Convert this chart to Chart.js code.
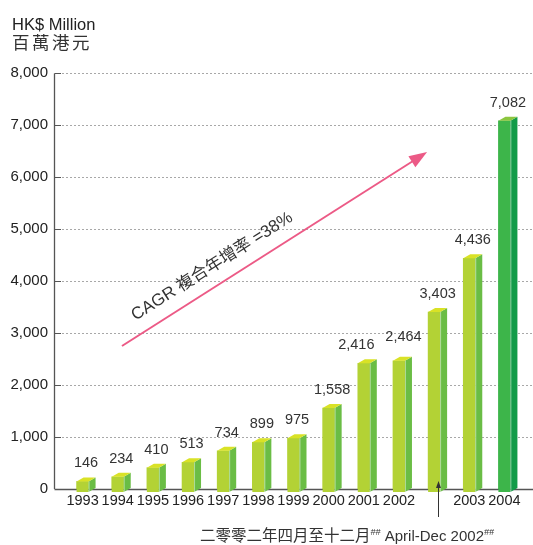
<!DOCTYPE html>
<html>
<head>
<meta charset="utf-8">
<script src="https://cdn.jsdelivr.net/npm/chart.js@4.4.1/dist/chart.umd.min.js"></script>
<style>
html, body { margin: 0; padding: 0; background: #fff; }
#wrap { width: 533px; height: 545px; }
</style>
</head>
<body>
<div id="wrap"><canvas id="myChart" width="533" height="545"></canvas></div>
<script>
// turnover by year, HK$ million (the blank one is April-Dec 2002)
const years = ['1993','1994','1995','1996','1997','1998','1999','2000','2001','2002','','2003','2004'];
const revenue = [146, 234, 410, 513, 734, 899, 975, 1558, 2416, 2464, 3403, 4436, 7082];
const yTicks = [0, 1000, 2000, 3000, 4000, 5000, 6000, 7000, 8000];
const yTickLabels = ['0','1,000','2,000','3,000','4,000','5,000','6,000','7,000','8,000'];
// CAGR arrow, in (category index, value)
const cagrFrom = [1.12, 2750];
const cagrTo = [9.8, 6480];
const noteIndex = 10;

const LATIN = "'Liberation Sans', Arial, sans-serif";
const CJK = "'Noto Sans CJK TC', 'Noto Sans CJK SC', sans-serif";
const last = revenue.length - 1;
const front = revenue.map((v, i) => i === last ? '#3db54a' : '#b3d235');
const side = revenue.map((v, i) => i === last ? '#129b48' : '#6abd45');
const top_ = revenue.map((v, i) => i === last ? '#8cc63f' : '#d9e226');
const depth = 7, rise = 4, sink = 3;
// 2001 and 2002 labels are pushed apart so they don't overlap
const nudge = { 8: [-11, 0], 9: [1, -6] };

const gridPlugin = {
    id: 'grid',
    beforeDatasetsDraw(chart) {
        const ctx = chart.ctx, ys = chart.scales.y;
        const axisX = 54.5;
        ctx.save();
        yTicks.forEach(v => {
            const py = Math.round(ys.getPixelForValue(v)) + 0.5;
            if (v === 0) return;
            ctx.strokeStyle = '#a8a8a8';
            ctx.lineWidth = 1;
            ctx.setLineDash([2, 2]);
            ctx.beginPath(); ctx.moveTo(62, py); ctx.lineTo(533, py); ctx.stroke();
            ctx.setLineDash([]);
            ctx.strokeStyle = '#555';
            ctx.beginPath(); ctx.moveTo(axisX, py); ctx.lineTo(61, py); ctx.stroke();
        });
        ctx.strokeStyle = '#555';
        ctx.lineWidth = 1.3;
        const top = ys.getPixelForValue(8000), bot = ys.getPixelForValue(0);
        ctx.beginPath(); ctx.moveTo(axisX, Math.round(top) + 0.5); ctx.lineTo(axisX, bot); ctx.stroke();
        ctx.beginPath(); ctx.moveTo(axisX, Math.round(bot) + 0.5); ctx.lineTo(533, Math.round(bot) + 0.5); ctx.stroke();
        ctx.restore();
    }
};

const boxPlugin = {
    id: 'box3d',
    afterDatasetsDraw(chart) {
        const ctx = chart.ctx;
        const meta = chart.getDatasetMeta(0);
        ctx.save();
        meta.data.forEach((bar, i) => {
            const { x, y, base, width } = bar.getProps(['x', 'y', 'base', 'width'], true);
            const l = x - width / 2, r = x + width / 2;
            ctx.fillStyle = front[i];
            ctx.fillRect(l, base - 1, width, sink + 1);
            ctx.fillStyle = side[i];
            ctx.beginPath();
            ctx.moveTo(r, y); ctx.lineTo(r + depth, y - rise);
            ctx.lineTo(r + depth, base + sink - rise); ctx.lineTo(r, base + sink);
            ctx.closePath(); ctx.fill();
            ctx.fillStyle = top_[i];
            ctx.beginPath();
            ctx.moveTo(l, y); ctx.lineTo(r, y); ctx.lineTo(r + depth, y - rise); ctx.lineTo(l + depth, y - rise);
            ctx.closePath(); ctx.fill();
            ctx.strokeStyle = 'rgba(255,255,255,0.45)';
            ctx.lineWidth = 1;
            ctx.beginPath(); ctx.moveTo(r + 0.5, y); ctx.lineTo(r + 0.5, base + sink); ctx.stroke();

            const [dx, dy] = nudge[i] || [0, 0];
            ctx.fillStyle = '#333';
            ctx.font = '14.5px ' + LATIN;
            ctx.textAlign = 'center';
            ctx.textBaseline = 'alphabetic';
            ctx.fillText(revenue[i].toLocaleString('en-US'), x + depth / 2 + dx, y - rise - 10 + dy);
        });
        ctx.restore();
    }
};

const notesPlugin = {
    id: 'notes',
    afterDraw(chart) {
        const ctx = chart.ctx, xs = chart.scales.x, ys = chart.scales.y;
        const step = xs.getPixelForValue(1) - xs.getPixelForValue(0);
        const px = i => xs.getPixelForValue(0) + i * step;
        ctx.save();

        // unit heading
        ctx.fillStyle = '#222';
        ctx.textAlign = 'left';
        ctx.textBaseline = 'alphabetic';
        ctx.font = '16.5px ' + LATIN;
        ctx.fillText('HK$ Million', 12, 29.5);
        ctx.font = '17.5px ' + CJK;
        ctx.fillStyle = '#333';
        Array.from('百萬港元').forEach((c, k) => ctx.fillText(c, 12 + k * 20, 49));

        // CAGR arrow
        const x0 = px(cagrFrom[0]), y0 = ys.getPixelForValue(cagrFrom[1]);
        const x1 = px(cagrTo[0]), y1 = ys.getPixelForValue(cagrTo[1]);
        const ang = Math.atan2(y1 - y0, x1 - x0);
        const len = Math.hypot(x1 - x0, y1 - y0);
        ctx.translate(x0, y0);
        ctx.rotate(ang);
        ctx.strokeStyle = '#ec5a86';
        ctx.fillStyle = '#ec5a86';
        ctx.lineWidth = 2;
        ctx.beginPath(); ctx.moveTo(0, 0); ctx.lineTo(len - 12, 0); ctx.stroke();
        ctx.beginPath(); ctx.moveTo(len, 0); ctx.lineTo(len - 18, -6.5); ctx.lineTo(len - 18, 6.5); ctx.closePath(); ctx.fill();
        ctx.fillStyle = '#333';
        ctx.font = '17px ' + LATIN;
        let tx = 25;
        ctx.fillText('CAGR ', tx, -14); tx += ctx.measureText('CAGR ').width;
        ctx.font = '17px ' + CJK;
        ctx.fillText('複合年增率', tx, -14); tx += ctx.measureText('複合年增率').width;
        ctx.font = '17px ' + LATIN;
        ctx.fillText(' =38%', tx, -14);
        ctx.setTransform(1, 0, 0, 1, 0, 0);

        // April-Dec 2002 pointer
        const ax = Math.round(px(noteIndex) + depth / 2) + 0.5;
        ctx.strokeStyle = '#333';
        ctx.fillStyle = '#333';
        ctx.lineWidth = 1;
        ctx.beginPath(); ctx.moveTo(ax, 517); ctx.lineTo(ax, 486); ctx.stroke();
        ctx.beginPath(); ctx.moveTo(ax, 481); ctx.lineTo(ax - 2.5, 488); ctx.lineTo(ax + 2.5, 488); ctx.closePath(); ctx.fill();

        const parts = [
            { t: '二零零二年四月至十二月', f: '15.5px ' + CJK, dy: 0 },
            { t: '##', f: 'italic 9px ' + LATIN, dy: -6 },
            { t: ' April-Dec 2002', f: '15px ' + LATIN, dy: 0 },
            { t: '##', f: 'italic 9px ' + LATIN, dy: -6 }
        ];
        let w = 0;
        parts.forEach(p => { ctx.font = p.f; w += ctx.measureText(p.t).width; });
        let nx = 494 - w;
        parts.forEach(p => {
            ctx.font = p.f;
            ctx.fillText(p.t, nx, 541 + p.dy);
            nx += ctx.measureText(p.t).width;
        });
        ctx.restore();
    }
};

new Chart(document.getElementById('myChart'), {
    type: 'bar',
    data: {
        labels: years,
        datasets: [{
            data: revenue,
            backgroundColor: front,
            borderWidth: 0,
            barThickness: 12
        }]
    },
    options: {
        responsive: false,
        animation: false,
        devicePixelRatio: 1,
        layout: { padding: { top: 73, right: 11, left: 0, bottom: 0 } },
        plugins: { legend: { display: false }, tooltip: { enabled: false } },
        scales: {
            x: {
                grid: { display: false, drawTicks: false },
                border: { display: false },
                ticks: {
                    color: '#222', font: { family: LATIN, size: 14.5 },
                    padding: 3, maxRotation: 0, autoSkip: false
                },
                afterFit: s => { s.height = 56; }
            },
            y: {
                min: 0, max: 8000,
                grid: { display: false, drawTicks: false },
                border: { display: false },
                ticks: {
                    stepSize: 1000, color: '#222', padding: 17,
                    font: { family: LATIN, size: 15 },
                    callback: (v) => yTickLabels[yTicks.indexOf(v)]
                },
                afterFit: s => { s.width = 65; }
            }
        }
    },
    plugins: [gridPlugin, boxPlugin, notesPlugin]
});
</script>
</body>
</html>
